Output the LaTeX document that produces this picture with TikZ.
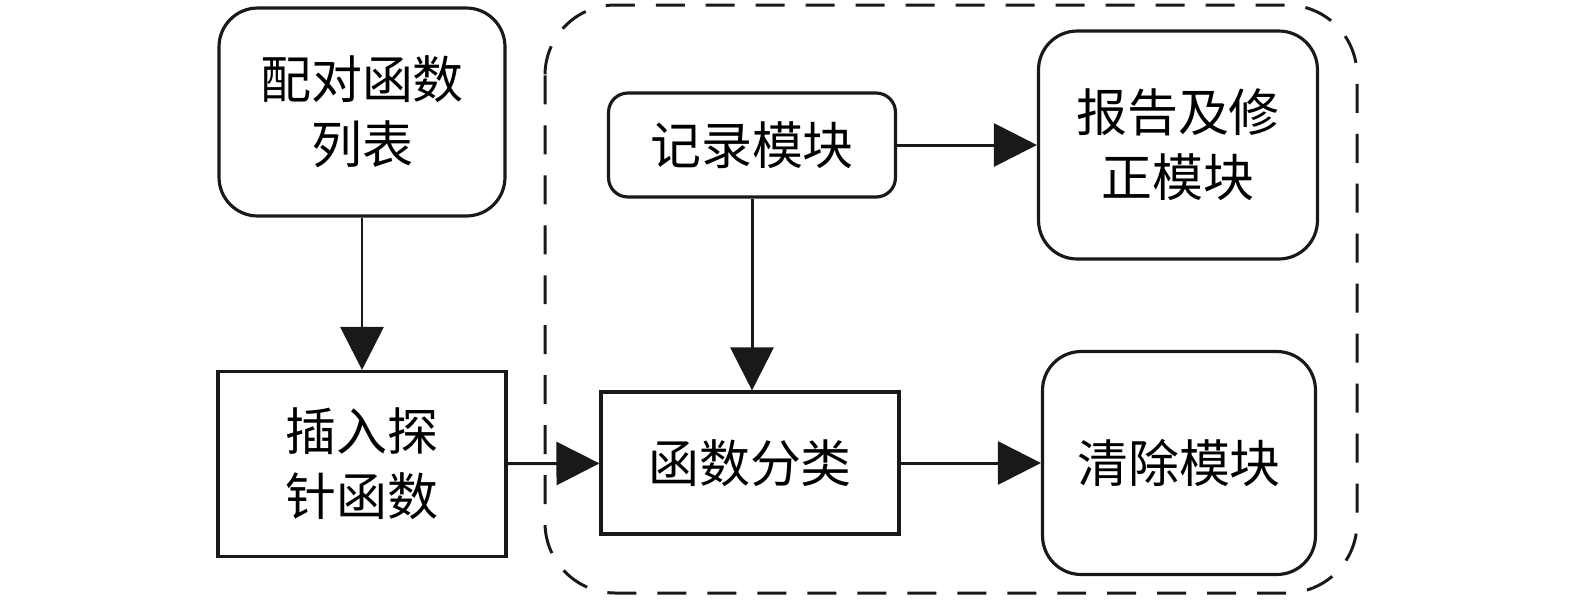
\documentclass[tikz,border=0pt]{standalone}
\usepackage{fontspec}
\newfontfamily\cjk{Noto Sans CJK SC}
\usetikzlibrary{arrows.meta,positioning}

\begin{document}
\begin{tikzpicture}[x=0.02cm, y=-0.02cm,
  modbox/.style={rectangle, draw=black!90, line width=1.8pt, rounded corners=22pt, align=center, inner sep=0pt, font=\cjk\fontsize{29}{37}\selectfont},
  procbox/.style={modbox, rounded corners=0pt},
  flow/.style={-{Triangle[length=0.86cm, width=0.86cm]}, line width=1.7pt, draw=black!90},
  group/.style={draw=black!90, line width=1.7pt, dash pattern=on 0.58cm off 0.42cm, rounded corners=40pt}
]
\useasboundingbox (0,0) rectangle (1575,600);
\draw[group] (545,5) rectangle (1357,593);

\node[modbox, minimum width=5.72cm, minimum height=4.16cm] (pairs) at (362,112) {配对函数\\列表};
\node[procbox, minimum width=5.76cm, minimum height=3.7cm] (probe) at (362,464) {插入探\\针函数};
\node[modbox, rounded corners=11pt, minimum width=5.74cm, minimum height=2.08cm] (rec) at (752,145) {记录模块};
\node[procbox, minimum width=5.96cm, minimum height=2.84cm] (cls) at (750,463) {函数分类};
\node[modbox, minimum width=5.58cm, minimum height=4.56cm] (report) at (1178,145) {报告及修\\正模块};
\node[modbox, minimum width=5.46cm, minimum height=4.46cm] (clean) at (1179,463) {清除模块};

\draw[flow] (pairs) -- (probe);
\draw[flow] (probe) -- (cls);
\draw[flow] (rec.south) -- (rec.south |- cls.north);
\draw[flow] (rec) -- (report);
\draw[flow] (cls) -- (clean);
\end{tikzpicture}
\end{document}
